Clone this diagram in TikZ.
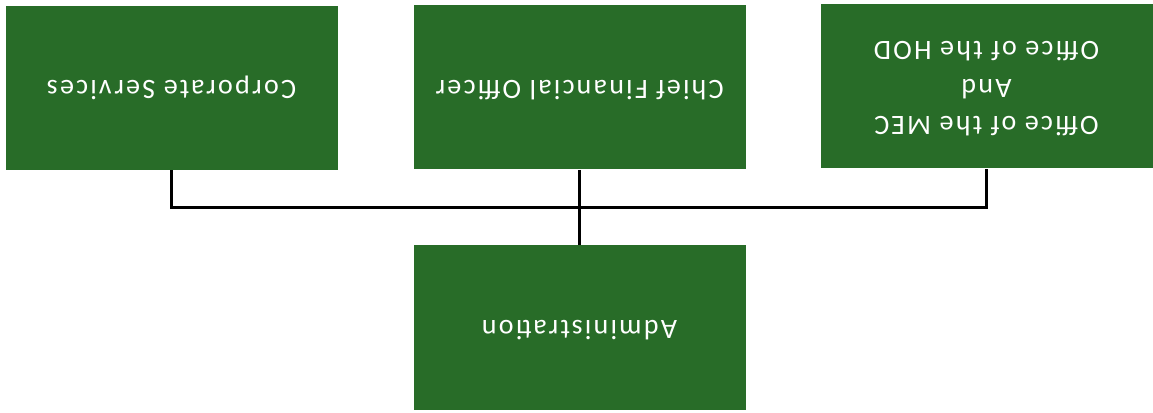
\documentclass[tikz,border=0pt]{standalone}
\usepackage{fontspec}
\setmainfont{Carlito}[LetterSpace=8]
\usepackage{graphicx}
\definecolor{orggreen}{RGB}{40,108,40}
\newcommand{\flip}[1]{\rotatebox[origin=c]{180}{\begin{tabular}{@{}c@{}}#1\end{tabular}}}
\tikzset{
  unit/.style={draw=none, fill=orggreen, text=white, minimum width=249pt, minimum height=123pt,
    inner sep=0pt, font=\fontsize{21}{28}\selectfont},
  link/.style={draw=black, line width=2pt}
}
\begin{document}
\begin{tikzpicture}[x=0.75pt, y=-0.75pt]
  \useasboundingbox (0,0) rectangle (1153,413);
  \node[unit] (corp) at (171.5,88) {\flip{Corporate Services}};
  \node[unit] (cfo) at (579.5,87.5) {\flip{Chief Financial Officer}};
  \node[unit] (mec) at (986.5,86.5) {\flip{Office of the MEC\\And\\Office of the HOD}};
  \node[unit] (admin) at (579.5,327.5) {\flip{Administration}};
  \draw[link] (corp.south) -- ++(0,37) -| (mec.south);
  \draw[link] (cfo.south) -- (admin.north);
\end{tikzpicture}
\end{document}
